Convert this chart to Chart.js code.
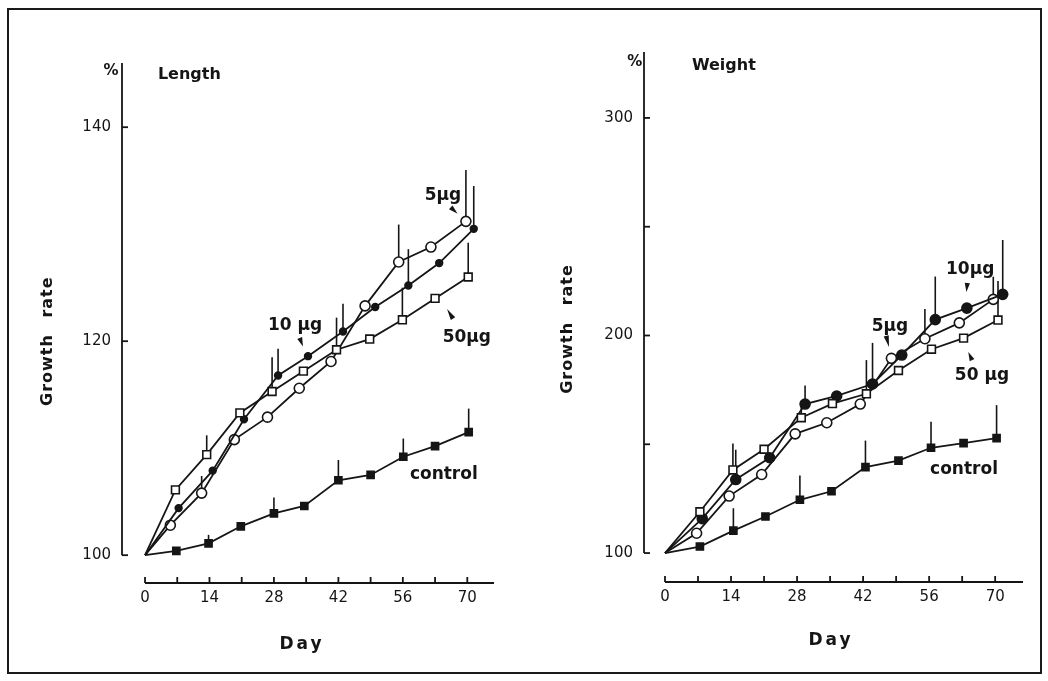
<!DOCTYPE html>
<html>
<head>
<meta charset="utf-8">
<script src="https://cdn.jsdelivr.net/npm/chart.js@4.4.0/dist/chart.umd.min.js"></script>
<style>
  body { margin: 0; background: #fff; width: 1048px; height: 681px; position: relative; overflow: hidden; }
  #frame { position: absolute; left: 7px; top: 8px; width: 1031px; height: 662px; border: 2px solid #1a1a1a; }
  canvas { position: absolute; top: 0; }
  #c1 { left: 0; }
  #c2 { left: 524px; }
</style>
</head>
<body>
<div id="frame"></div>
<canvas id="c1" width="524" height="681"></canvas>
<canvas id="c2" width="524" height="681"></canvas>
<script>
// ejes
const dayTicks = [0, 7, 14, 21, 28, 35, 42, 49, 56, 63, 70];
const lenTicks = [100, 120, 140];
const wtTicks = [100, 150, 200, 250, 300];

// Length (%) - control
const lenCtrlDay = [0, 6.8, 13.8, 20.8, 28, 34.6, 42, 49, 56.1, 63, 70.3];
const lenCtrl    = [100, 100.4, 101.1, 102.7, 103.9, 104.6, 107.0, 107.5, 109.2, 110.2, 111.5];
const lenCtrlErr = [null, null, 101.9, null, 105.4, null, 108.9, null, 110.9, null, 113.7];
// Length - 50 µg
const len50Day = [0, 6.6, 13.4, 20.6, 27.6, 34.4, 41.6, 48.8, 55.9, 63, 70.2];
const len50    = [100, 106.1, 109.4, 113.3, 115.3, 117.2, 119.2, 120.2, 122.0, 124.0, 126.0];
const len50Err = [null, null, 111.2, null, 118.5, null, 122.2, null, 125.0, null, 129.2];
// Length - 5 µg
const len5Day = [0, 5.5, 12.3, 19.4, 26.6, 33.5, 40.4, 47.8, 55.1, 62.1, 69.7];
const len5    = [100, 102.8, 105.8, 110.8, 112.9, 115.6, 118.1, 123.3, 127.4, 128.8, 131.2];
const len5Err = [null, null, 107.4, null, null, null, null, null, 130.9, null, 136.0];
// Length - 10 µg
const len10Day = [0, 7.3, 14.7, 21.5, 28.9, 35.4, 43, 50, 57.2, 63.9, 71.4];
const len10    = [100, 104.4, 107.9, 112.7, 116.8, 118.6, 120.9, 123.2, 125.2, 127.3, 130.5];
const len10Err = [null, null, null, null, 119.3, null, 123.5, null, 128.6, null, 134.5];

// Weight (%) - control
const wtCtrlDay = [0, 7.4, 14.5, 21.3, 28.6, 35.3, 42.5, 49.5, 56.4, 63.3, 70.3];
const wtCtrl    = [100, 103, 110.3, 116.8, 124.5, 128.4, 139.5, 142.5, 148.4, 150.5, 152.8];
const wtCtrlErr = [null, null, 120.6, null, 135.6, null, 151.7, null, 160.4, null, 168];
// Weight - 50 µg
const wt50Day = [0, 7.4, 14.4, 21, 28.9, 35.5, 42.7, 49.5, 56.5, 63.3, 70.6];
const wt50    = [100, 119, 138.2, 147.7, 162.2, 168.7, 173.2, 183.9, 193.7, 198.8, 207.1];
const wt50Err = [null, null, 150.4, null, 170, null, 188.7, null, null, null, 225];
// Weight - 5 µg
const wt5Day = [0, 6.7, 13.6, 20.5, 27.6, 34.3, 41.4, 48, 55.1, 62.4, 69.6];
const wt5    = [100, 109.1, 126.2, 136.1, 154.8, 159.9, 168.5, 189.5, 198.5, 205.8, 216.6];
const wt5Err = [null, null, null, null, null, null, null, null, 212.2, null, 227];
// Weight - 10 µg
const wt10Day = [0, 7.9, 15, 22.2, 29.7, 36.4, 44, 50.2, 57.3, 64, 71.6];
const wt10    = [100, 115.8, 133.8, 143.8, 168.5, 172.2, 177.7, 191, 207.3, 212.6, 218.9];
const wt10Err = [null, null, 147.5, null, 177, null, 196.6, null, 227.1, null, 243.9];

// rótulos [texto, día, valor] y flechas [día base, valor base, día punta, valor punta]
const lenLabels = [['10 µg', 32.6, 121.5], ['5µg', 64.7, 133.6], ['50µg', 69.9, 120.3], ['control', 64.9, 107.5]];
const lenArrows = [[33.6, 120.3, 34.3, 119.5], [66.4, 132.5, 67.9, 131.9], [66.9, 122.1, 65.6, 123.0]];
const wtLabels = [['10µg', 64.7, 230.1], ['5µg', 47.7, 203.9], ['50 µg', 67.2, 181.8], ['control', 63.4, 138.2]];
const wtArrows = [[64.1, 224.1, 63.9, 220.0], [46.9, 199.8, 47.5, 194.7], [65.1, 188.7, 64.3, 192.4]];

const INK = '#151515';
const FONT = '"DejaVu Sans", sans-serif';

function pts(days, vals) {
    return days.map((d, i) => ({ x: d, y: vals[i] }));
}

function serie(days, vals, err, style, radius, fill) {
    return {
        data: pts(days, vals),
        err: err,
        borderColor: INK,
        borderWidth: 1.8,
        pointStyle: style,
        pointRadius: ctx => ctx.dataIndex === 0 ? 0 : radius,
        pointBackgroundColor: fill,
        pointBorderColor: INK,
        pointBorderWidth: 1.6,
        tension: 0,
        showLine: true
    };
}

// barras de error (solo hacia arriba), debajo de los marcadores
const errorBars = {
    id: 'errorBars',
    beforeDatasetsDraw(chart) {
        const { ctx, scales: { x, y } } = chart;
        ctx.save();
        ctx.strokeStyle = INK;
        ctx.lineWidth = 1.6;
        chart.data.datasets.forEach(ds => {
            ds.data.forEach((p, i) => {
                const top = ds.err[i];
                if (top == null) return;
                const px = x.getPixelForValue(p.x);
                ctx.beginPath();
                ctx.moveTo(px, y.getPixelForValue(p.y));
                ctx.lineTo(px, y.getPixelForValue(top));
                ctx.stroke();
            });
        });
        ctx.restore();
    }
};

// ejes separados, marcas, títulos y rótulos
const decor = {
    id: 'decor',
    afterDraw(chart, args, o) {
        const { ctx, chartArea: a, scales: { x, y } } = chart;
        ctx.save();
        ctx.strokeStyle = INK;
        ctx.fillStyle = INK;
        ctx.lineWidth = 1.8;

        // eje Y
        const yb = y.getPixelForValue(100);
        ctx.beginPath();
        ctx.moveTo(a.left, yb);
        ctx.lineTo(a.left, a.top);
        ctx.stroke();
        y.ticks.forEach(t => {
            const py = y.getPixelForValue(t.value);
            ctx.beginPath();
            ctx.moveTo(a.left, py);
            ctx.lineTo(a.left + 6, py);
            ctx.stroke();
        });

        // eje X
        ctx.beginPath();
        ctx.moveTo(x.getPixelForValue(0), a.bottom);
        ctx.lineTo(a.right, a.bottom);
        ctx.stroke();
        x.ticks.forEach(t => {
            const px = x.getPixelForValue(t.value);
            ctx.beginPath();
            ctx.moveTo(px, a.bottom);
            ctx.lineTo(px, a.bottom - 6);
            ctx.stroke();
        });

        // títulos
        ctx.textBaseline = 'middle';
        ctx.font = 'bold 17px ' + FONT;
        ctx.textAlign = 'center';
        ctx.letterSpacing = '3px';
        ctx.fillText('Day', x.getPixelForValue(o.dayAt), a.bottom + o.dayDy);

        ctx.save();
        ctx.translate(a.left - o.growthDx, y.getPixelForValue(o.growthAt));
        ctx.rotate(-Math.PI / 2);
        ctx.font = 'bold 16px ' + FONT;
        ctx.letterSpacing = '1px';
        ctx.wordSpacing = '10px';
        ctx.fillText('Growth rate', 0, 0);
        ctx.restore();

        ctx.letterSpacing = '0px';
        ctx.font = 'bold 15px ' + FONT;
        ctx.textAlign = 'center';
        ctx.fillText('%', x.getPixelForValue(o.pct[0]), y.getPixelForValue(o.pct[1]));
        ctx.font = 'bold 16px ' + FONT;
        ctx.textAlign = 'left';
        ctx.fillText(o.title[0], x.getPixelForValue(o.title[1]), y.getPixelForValue(o.title[2]));

        // rótulos de las series
        ctx.font = 'bold 17px ' + FONT;
        ctx.textAlign = 'center';
        o.labels.forEach(l => ctx.fillText(l[0], x.getPixelForValue(l[1]), y.getPixelForValue(l[2])));

        // flechitas
        o.arrows.forEach(ar => {
            const bx = x.getPixelForValue(ar[0]), by = y.getPixelForValue(ar[1]);
            const tx = x.getPixelForValue(ar[2]), ty = y.getPixelForValue(ar[3]);
            const len = Math.hypot(tx - bx, ty - by);
            const nx = -(ty - by) / len * 2.6, ny = (tx - bx) / len * 2.6;
            ctx.beginPath();
            ctx.moveTo(tx, ty);
            ctx.lineTo(bx + nx, by + ny);
            ctx.lineTo(bx - nx, by - ny);
            ctx.closePath();
            ctx.fill();
        });
        ctx.restore();
    }
};

function makeChart(id, cfg) {
    return new Chart(document.getElementById(id).getContext('2d'), {
        type: 'scatter',
        data: { datasets: cfg.datasets },
        options: {
            responsive: false,
            animation: false,
            events: [],
            layout: { padding: { top: cfg.padTop, right: cfg.padRight, left: 0, bottom: 0 } },
            plugins: { legend: { display: false }, tooltip: { enabled: false }, decor: cfg.decor },
            scales: {
                x: {
                    type: 'linear',
                    min: cfg.xMin,
                    max: cfg.xMax,
                    afterBuildTicks: s => { s.ticks = dayTicks.map(v => ({ value: v })); },
                    afterFit: s => { s.height = cfg.xHeight; },
                    grid: { display: false, drawTicks: false },
                    border: { display: false },
                    ticks: {
                        autoSkip: false,
                        maxRotation: 0,
                        padding: 6,
                        color: INK,
                        font: { family: FONT, size: 15 },
                        callback: v => (v % 14 === 0 ? String(v) : '')
                    }
                },
                y: {
                    type: 'linear',
                    min: cfg.yMin,
                    max: cfg.yMax,
                    afterBuildTicks: s => { s.ticks = cfg.yTicks.map(v => ({ value: v })); },
                    afterFit: s => { s.width = cfg.yWidth; },
                    grid: { display: false, drawTicks: false },
                    border: { display: false },
                    ticks: {
                        padding: 11,
                        color: INK,
                        font: { family: FONT, size: 15 },
                        callback: v => (v % 100 === 0 || cfg.yTicks.length === 3 ? String(v) : '')
                    }
                }
            }
        },
        plugins: [errorBars, decor]
    });
}

makeChart('c1', {
    datasets: [
        serie(lenCtrlDay, lenCtrl, lenCtrlErr, 'rect', 5, INK),
        serie(len50Day, len50, len50Err, 'rect', 5.5, '#fff'),
        serie(len10Day, len10, len10Err, 'circle', 3.4, INK),
        serie(len5Day, len5, len5Err, 'circle', 5, '#fff')
    ],
    xMin: -5, xMax: 75.8, yMin: 97.4, yMax: 146,
    yTicks: lenTicks, yWidth: 122, xHeight: 98, padTop: 63, padRight: 30,
    decor: {
        dayAt: 34.1, dayDy: 62, growthAt: 120, growthDx: 74,
        pct: [-7.4, 145.2], title: ['Length', 2.8, 144.9],
        labels: lenLabels, arrows: lenArrows
    }
});

makeChart('c2', {
    datasets: [
        serie(wtCtrlDay, wtCtrl, wtCtrlErr, 'rect', 5, INK),
        serie(wt50Day, wt50, wt50Err, 'rect', 5.5, '#fff'),
        serie(wt10Day, wt10, wt10Err, 'circle', 5, INK),
        serie(wt5Day, wt5, wt5Err, 'circle', 5, '#fff')
    ],
    xMin: -4.45, xMax: 75.9, yMin: 86.7, yMax: 330.3,
    yTicks: wtTicks, yWidth: 120, xHeight: 99, padTop: 52, padRight: 25,
    decor: {
        dayAt: 35.2, dayDy: 59, growthAt: 203, growthDx: 76,
        pct: [-6.4, 325.7], title: ['Weight', 5.7, 324],
        labels: wtLabels, arrows: wtArrows
    }
});
</script>
</body>
</html>
